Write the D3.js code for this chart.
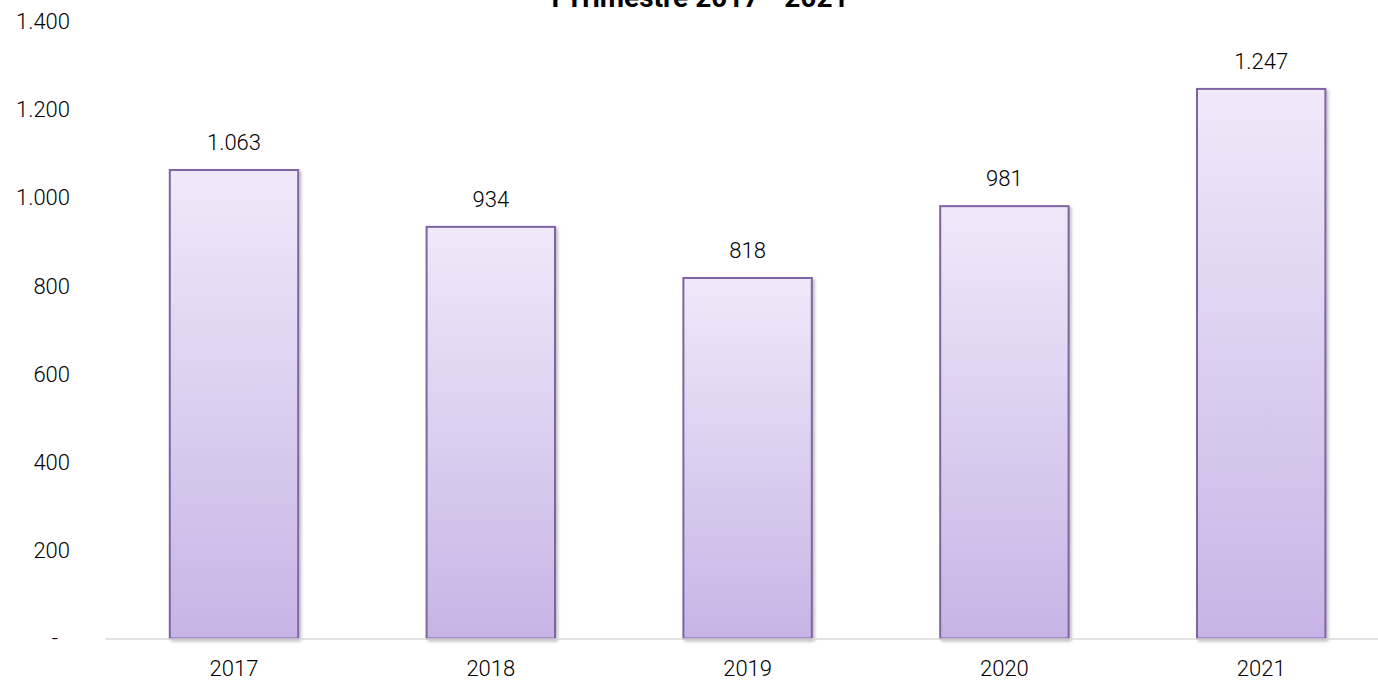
<!DOCTYPE html>
<html>
<head>
<meta charset="utf-8">
<script src="https://cdn.jsdelivr.net/npm/d3@7"></script>
<style>
  body { margin: 0; background: #fff; }
  text { font-family: Roboto, "DejaVu Sans", sans-serif; font-weight: 300; fill: #000; }
</style>
</head>
<body>
<div class="chart"></div>
<script>
// Data
const years = ['2017', '2018', '2019', '2020', '2021'];
const values = [1063, 934, 818, 981, 1247];
const yTicks = [0, 200, 400, 600, 800, 1000, 1200, 1400];
const title = 'I Trimestre 2017 - 2021';

const width = 1378;
const height = 694;

const svg = d3.select('.chart')
  .append('svg')
  .attr('width', width)
  .attr('height', height);

const defs = svg.append('defs');
const grad = defs.append('linearGradient')
  .attr('id', 'barGrad')
  .attr('x1', 0).attr('y1', 0).attr('x2', 0).attr('y2', 1);
grad.append('stop').attr('offset', '0%').attr('stop-color', '#efe9f9');
grad.append('stop').attr('offset', '100%').attr('stop-color', '#c7b4e6');

const shadow = defs.append('filter').attr('id', 'shadow')
  .attr('x', '-10%').attr('y', '-10%').attr('width', '130%').attr('height', '130%');
shadow.append('feDropShadow')
  .attr('dx', 2).attr('dy', 2).attr('stdDeviation', 1.5)
  .attr('flood-color', '#000').attr('flood-opacity', 0.25);

const x = d3.scaleBand()
  .domain(years)
  .range([105.6, 1389.6])
  .paddingInner(0.5)
  .paddingOuter(0.25);

const y = d3.scaleLinear()
  .domain([0, 1400])
  .range([638.5, 21.5]);

// Title (cut off at the top in the reference)
svg.append('text')
  .attr('x', 700)
  .attr('y', 7)
  .attr('text-anchor', 'middle')
  .style('font-weight', 700)
  .style('font-size', '28px')
  .text(title);

// Y axis labels
const fmt = d => d === 0 ? '-' : d3.format(',')(d).replace(/,/g, '.');
svg.append('g')
  .selectAll('text')
  .data(yTicks)
  .enter()
  .append('text')
  .attr('x', d => d === 0 ? 58 : 70)
  .attr('y', d => y(d))
  .attr('dy', '0.35em')
  .attr('text-anchor', 'end')
  .style('font-size', '22px')
  .text(fmt);

// Bars
svg.append('g')
  .selectAll('rect')
  .data(values)
  .enter()
  .append('rect')
  .attr('x', (d, i) => x(years[i]))
  .attr('y', d => y(d))
  .attr('width', x.bandwidth())
  .attr('height', d => y(0) - y(d))
  .attr('fill', 'url(#barGrad)')
  .attr('stroke', '#8064a2')
  .attr('stroke-width', 2)
  .attr('filter', 'url(#shadow)');

// Baseline
svg.append('line')
  .attr('x1', 105.6)
  .attr('x2', width)
  .attr('y1', y(0) + 0.5)
  .attr('y2', y(0) + 0.5)
  .attr('stroke', '#d9d9d9')
  .attr('stroke-width', 1.5);

// Value labels
svg.append('g')
  .selectAll('text')
  .data(values)
  .enter()
  .append('text')
  .attr('x', (d, i) => x(years[i]) + x.bandwidth() / 2)
  .attr('y', d => y(d) - 20)
  .attr('text-anchor', 'middle')
  .style('font-size', '22px')
  .text(fmt);

// X axis labels
svg.append('g')
  .selectAll('text')
  .data(years)
  .enter()
  .append('text')
  .attr('x', d => x(d) + x.bandwidth() / 2)
  .attr('y', 676)
  .attr('text-anchor', 'middle')
  .style('font-size', '22px')
  .text(d => d);
</script>
</body>
</html>
